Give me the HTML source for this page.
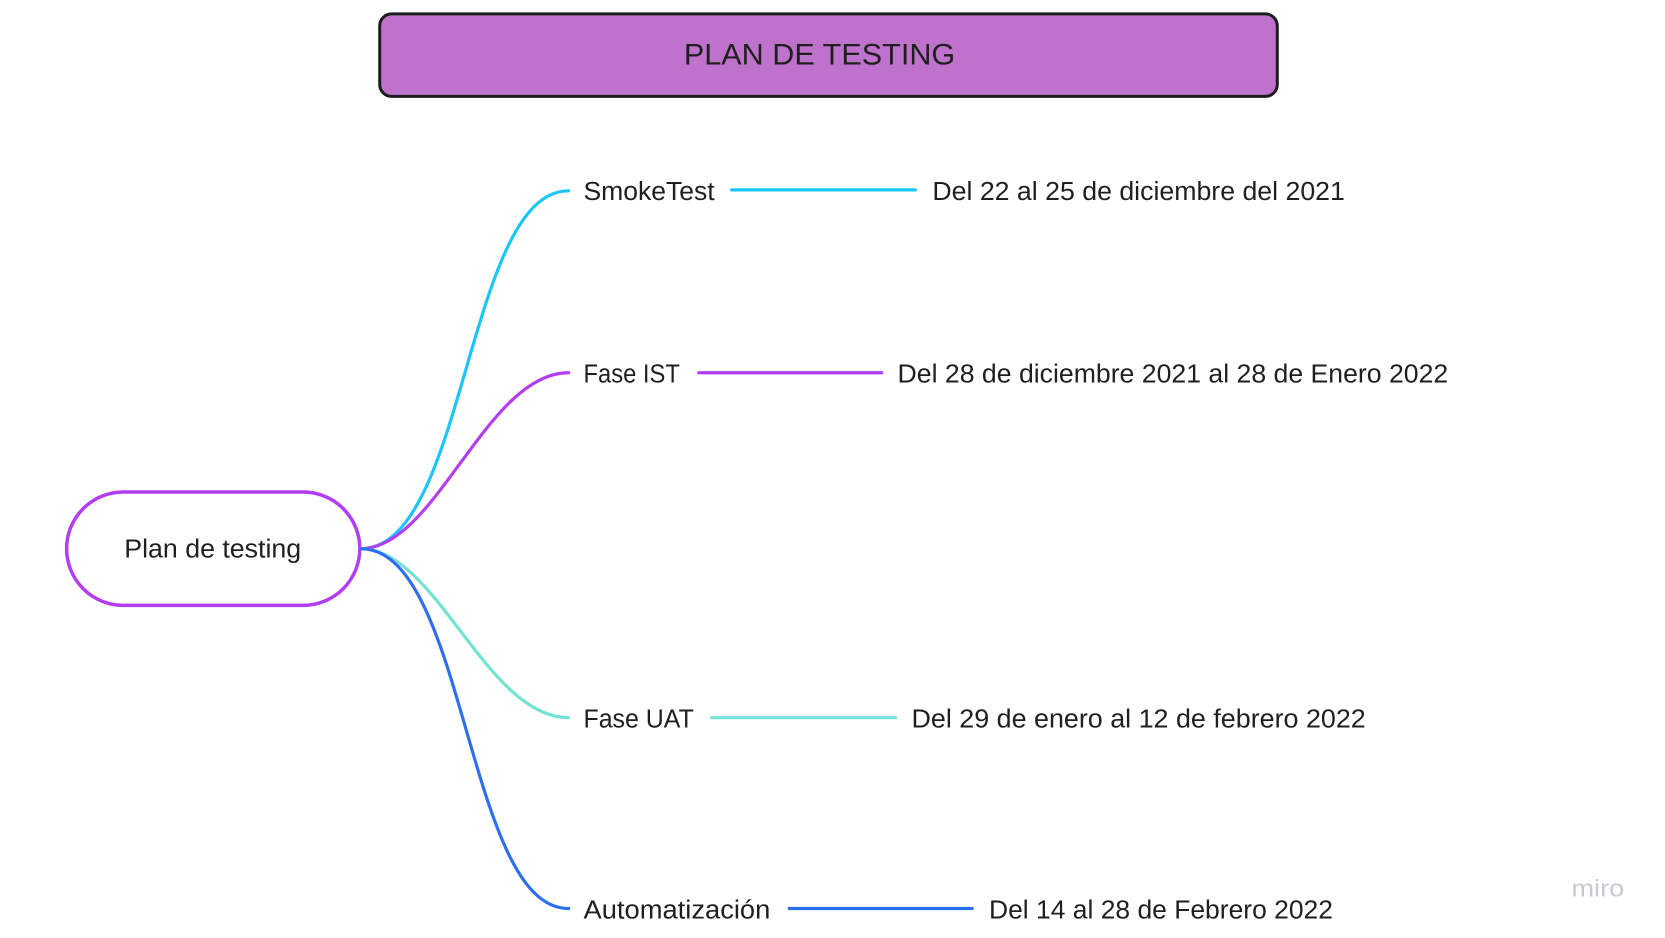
<!DOCTYPE html>
<html><head><meta charset="utf-8"><style>
html,body{margin:0;padding:0;background:#fff;}
svg{display:block;}
text{font-family:"Liberation Sans",sans-serif;fill:#1f1f1f;}
</style></head><body>
<svg width="1665" height="938" viewBox="0 0 1665 938" xmlns="http://www.w3.org/2000/svg">
<g transform="translate(-1,-1) scale(0.994)">
<rect x="383" y="15" width="903" height="83" rx="12" ry="12" fill="#be72cc" stroke="#1c1c1c" stroke-width="3"/>
<text x="689" y="66" font-size="30" textLength="273" lengthAdjust="spacingAndGlyphs">PLAN DE TESTING</text>

<rect x="68" y="496" width="295" height="114" rx="57" ry="57" fill="#fff" stroke="#b33df2" stroke-width="3.5"/>
<text x="126" y="562" font-size="26" textLength="178" lengthAdjust="spacingAndGlyphs">Plan de testing</text>

<g fill="none" stroke-width="3.2" stroke-linecap="round">
<path d="M364 553 C 470 553, 470 193, 573 193" stroke="#1ac6f7"/>
<path d="M364 553 C 440 553, 490 376, 573 376" stroke="#b33df2"/>
<path d="M364 553 C 440 553, 490 723, 573 723" stroke="#72e3d2"/>
<path d="M364 553 C 470 553, 470 915, 573 915" stroke="#2d6ff0"/>
<line x1="737" y1="192" x2="922" y2="192" stroke="#1ac6f7"/>
<line x1="704" y1="376" x2="888" y2="376" stroke="#b33df2"/>
<line x1="717" y1="723" x2="902" y2="723" stroke="#72e3d2"/>
<line x1="795" y1="915" x2="979" y2="915" stroke="#2d6ff0"/>
</g>

<g font-size="26">
<text x="588" y="202" textLength="132" lengthAdjust="spacingAndGlyphs">SmokeTest</text>
<text x="939" y="202" textLength="415" lengthAdjust="spacingAndGlyphs">Del 22 al 25 de diciembre del 2021</text>
<text x="588" y="386" textLength="97" lengthAdjust="spacingAndGlyphs">Fase IST</text>
<text x="904" y="386" textLength="554" lengthAdjust="spacingAndGlyphs">Del 28 de diciembre 2021 al 28 de Enero 2022</text>
<text x="588" y="733" textLength="111" lengthAdjust="spacingAndGlyphs">Fase UAT</text>
<text x="918" y="733" textLength="457" lengthAdjust="spacingAndGlyphs">Del 29 de enero al 12 de febrero 2022</text>
<text x="588" y="925" textLength="188" lengthAdjust="spacingAndGlyphs">Automatización</text>
<text x="996" y="925" textLength="346" lengthAdjust="spacingAndGlyphs">Del 14 al 28 de Febrero 2022</text>
</g>
<text x="1582" y="903" font-size="24" style="fill:#c8c8d0" textLength="53" lengthAdjust="spacingAndGlyphs">miro</text>
</g>
</svg>
</body></html>
